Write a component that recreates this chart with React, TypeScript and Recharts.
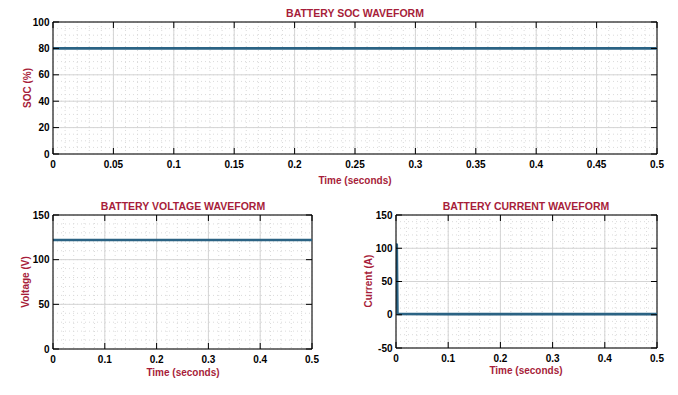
import React from 'react';
import { LineChart, Line, XAxis, YAxis, CartesianGrid, ReferenceLine } from 'recharts';

// ---- data ----
const socTime = [0, 0.1, 0.2, 0.3, 0.4, 0.5];
const socValues = [80, 80, 80, 80, 80, 80];
const socXTicks = [0, 0.05, 0.1, 0.15, 0.2, 0.25, 0.3, 0.35, 0.4, 0.45, 0.5];
const socYTicks = [0, 20, 40, 60, 80, 100];

const voltTime = [0, 0.1, 0.2, 0.3, 0.4, 0.5];
const voltValues = [122, 122, 122, 122, 122, 122];
const voltXTicks = [0, 0.1, 0.2, 0.3, 0.4, 0.5];
const voltYTicks = [0, 50, 100, 150];

const currTime = [0, 0.0015, 0.0028, 0.004, 0.1, 0.2, 0.3, 0.4, 0.5];
const currValues = [107, 105, 2, 1.2, 1, 1, 1, 1, 1];
const currXTicks = [0, 0.1, 0.2, 0.3, 0.4, 0.5];
const currYTicks = [-50, 0, 50, 100, 150];

const titles = ['BATTERY SOC WAVEFORM', 'BATTERY VOLTAGE WAVEFORM', 'BATTERY CURRENT WAVEFORM'];
const xLabel = 'Time (seconds)';
const yLabels = ['SOC (%)', 'Voltage (V)', 'Current (A)'];

const toRows = (t: number[], v: number[]) => t.map((tt, i) => ({ t: tt, v: v[i] }));

const range = (lo: number, hi: number, step: number) => {
  const out: number[] = [];
  for (let k = 0; lo + k * step <= hi + 1e-9; k++) out.push(+(lo + k * step).toFixed(6));
  return out;
};

const FONT = '"Liberation Sans", Arial, Helvetica, sans-serif';
const RED = '#a71d3a';
const LINE = '#2b6384';
const TICK_LEN = 6;
const Y_AXIS_W = 40;
const X_AXIS_H = 20;

function BottomTick(props: any) {
  const { x, payload, edge, farEdge } = props;
  return (
    <g>
      <line x1={x} x2={x} y1={edge} y2={edge - TICK_LEN} stroke="#000" strokeWidth={1} />
      <line x1={x} x2={x} y1={farEdge} y2={farEdge + TICK_LEN} stroke="#000" strokeWidth={1} />
      <text x={x} y={edge + 13.5} textAnchor="middle" fontSize={10} fontWeight="bold" fontFamily={FONT} fill="#000">
        {String(payload.value)}
      </text>
    </g>
  );
}

function LeftTick(props: any) {
  const { y, payload, edge, farEdge } = props;
  return (
    <g>
      <line x1={edge} x2={edge + TICK_LEN} y1={y} y2={y} stroke="#000" strokeWidth={1} />
      <line x1={farEdge - TICK_LEN} x2={farEdge} y1={y} y2={y} stroke="#000" strokeWidth={1} />
      <text x={edge - 3.5} y={y + 3.6} textAnchor="end" fontSize={10} fontWeight="bold" fontFamily={FONT} fill="#000">
        {String(payload.value)}
      </text>
    </g>
  );
}

type PanelProps = {
  data: { t: number; v: number }[];
  xTicks: number[];
  yTicks: number[];
  xDomain: [number, number];
  yDomain: [number, number];
  xMinor: number[];
  yMinor: number[];
  width: number;
  height: number;
  margin: { top: number; right: number; bottom: number; left: number };
  left: number;
  top: number;
};

function Panel(p: PanelProps) {
  const leftEdge = p.margin.left + Y_AXIS_W;
  const rightEdge = p.width - p.margin.right;
  const topEdge = p.margin.top;
  const bottomEdge = p.height - p.margin.bottom - X_AXIS_H;
  return (
    <div style={{ position: 'absolute', left: p.left, top: p.top, width: p.width, height: p.height }}>
      <LineChart width={p.width} height={p.height} data={p.data} margin={p.margin}>
        <CartesianGrid
          stroke="#dadada"
          strokeDasharray="1 3"
          verticalValues={p.xMinor}
          horizontalValues={p.yMinor}
        />
        <CartesianGrid stroke="#d4d4d4" />
        <ReferenceLine y={p.yDomain[1]} stroke="#000" strokeWidth={1} />
        <ReferenceLine x={p.xDomain[1]} stroke="#000" strokeWidth={1} />
        <XAxis
          dataKey="t"
          type="number"
          domain={p.xDomain}
          ticks={p.xTicks}
          interval={0}
          allowDataOverflow
          height={X_AXIS_H}
          tickLine={false}
          stroke="#000"
          tick={<BottomTick edge={bottomEdge} farEdge={topEdge} />}
        />
        <YAxis
          type="number"
          domain={p.yDomain}
          ticks={p.yTicks}
          interval={0}
          allowDataOverflow
          width={Y_AXIS_W}
          tickLine={false}
          stroke="#000"
          tick={<LeftTick edge={leftEdge} farEdge={rightEdge} />}
        />
        <Line
          type="linear"
          dataKey="v"
          stroke={LINE}
          strokeWidth={2.6}
          dot={false}
          isAnimationActive={false}
        />
      </LineChart>
    </div>
  );
}

export default function App() {
  const textStyle = { fontFamily: FONT, fontWeight: 'bold' as const, fill: RED };
  return (
    <div style={{ position: 'absolute', left: 0, top: 0, width: 678, height: 395, background: '#fff', overflow: 'hidden' }}>
      <Panel
        data={toRows(socTime, socValues)}
        xTicks={socXTicks}
        yTicks={socYTicks}
        xDomain={[0, 0.5]}
        yDomain={[0, 100]}
        xMinor={range(0, 0.5, 0.01)}
        yMinor={range(0, 100, 5)}
        width={678}
        height={200}
        margin={{ top: 22, right: 21, bottom: 26, left: 13 }}
        left={0}
        top={0}
      />
      <Panel
        data={toRows(voltTime, voltValues)}
        xTicks={voltXTicks}
        yTicks={voltYTicks}
        xDomain={[0, 0.5]}
        yDomain={[0, 150]}
        xMinor={range(0, 0.5, 0.02)}
        yMinor={range(0, 150, 10)}
        width={339}
        height={200}
        margin={{ top: 20, right: 27, bottom: 26, left: 13 }}
        left={0}
        top={195}
      />
      <Panel
        data={toRows(currTime, currValues)}
        xTicks={currXTicks}
        yTicks={currYTicks}
        xDomain={[0, 0.5]}
        yDomain={[-50, 150]}
        xMinor={range(0, 0.5, 0.02)}
        yMinor={range(-50, 150, 10)}
        width={339}
        height={200}
        margin={{ top: 20, right: 21, bottom: 27, left: 17 }}
        left={339}
        top={195}
      />
      <svg width={678} height={395} style={{ position: 'absolute', left: 0, top: 0, pointerEvents: 'none' }}>
        <text x={355} y={17} textAnchor="middle" fontSize={10.5} {...textStyle}>{titles[0]}</text>
        <text x={183} y={210} textAnchor="middle" fontSize={10.5} {...textStyle}>{titles[1]}</text>
        <text x={526} y={210} textAnchor="middle" fontSize={10.5} {...textStyle}>{titles[2]}</text>
        <text x={355} y={184} textAnchor="middle" fontSize={10} {...textStyle}>{xLabel}</text>
        <text x={183} y={376} textAnchor="middle" fontSize={10} {...textStyle}>{xLabel}</text>
        <text x={526} y={374} textAnchor="middle" fontSize={10} {...textStyle}>{xLabel}</text>
        <text x={31} y={88} textAnchor="middle" fontSize={10} transform="rotate(-90 31 88)" {...textStyle}>{yLabels[0]}</text>
        <text x={29} y={282} textAnchor="middle" fontSize={10} transform="rotate(-90 29 282)" {...textStyle}>{yLabels[1]}</text>
        <text x={372} y={281} textAnchor="middle" fontSize={10} transform="rotate(-90 372 281)" {...textStyle}>{yLabels[2]}</text>
      </svg>
    </div>
  );
}
